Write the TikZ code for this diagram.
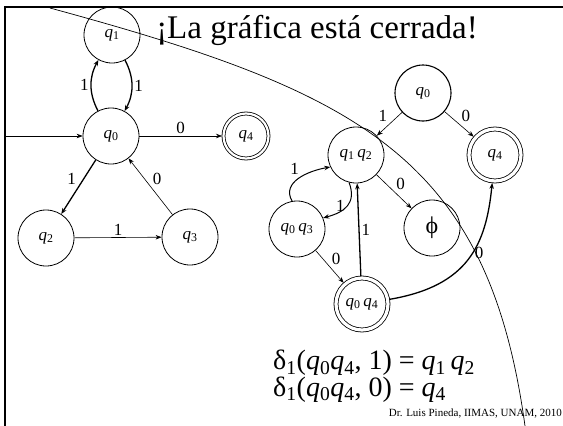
\documentclass[tikz,border=0pt]{standalone}
\usepackage{fontspec}
\setmainfont{Liberation Serif}
\usetikzlibrary{arrows.meta}

% state label q with index
\newcommand{\qi}[1]{\textit{q}\textsubscript{#1}}

\begin{document}
\begin{tikzpicture}[x=1pt,y=-1pt,
  state/.style={circle, draw, line width=0.8pt, minimum size=56pt, inner sep=0pt,
    font=\fontsize{17}{17}\selectfont},
  final/.style={state, double, double distance=3.2pt, minimum size=52pt, outer sep=2pt},
  edge/.style={-{Stealth[length=6pt,width=4.5pt]}, line width=0.6pt},
  bold/.style={edge, line width=1.3pt},
  lab/.style={font=\fontsize{17}{17}\selectfont, inner sep=2pt}]

\useasboundingbox (0,0) rectangle (563,426);

% Frame
\draw[line width=2.5pt] (5,426) -- (5,7) -- (563,7);

% Big arc
\draw[line width=0.7pt] (50,8) .. controls (359,92) and (488,156) .. (525,426);

% Title
\node (title) at (317,30) {\fontsize{33}{33}\selectfont ¡La gráfica está cerrada!};

% Left automaton
\node[state] (q1) at (112,35) {\qi{1}};
\node[state] (q0) at (111,136) {\qi{0}};
\node[final, minimum size=45pt, double distance=2.2pt, outer sep=1.5pt] (q4) at (246,136) {\qi{4}};
\node[state] (q2) at (46,238) {\qi{2}};
\node[state] (q3) at (190,237) {\qi{3}};
\coordinate (start) at (5,136);

\draw[edge] (start) -- (q0);
\draw[bold] (q0) to[bend left=28] node[lab,left]{1} (q1);
\draw[bold] (q1) to[bend left=28] node[lab,right]{1} (q0);
\draw[edge] (q0) -- node[lab,above]{0} (q4);
\draw[bold] (q0) -- node[lab,above left]{1} (q2);
\draw[edge] (q3) -- node[lab,above right]{0} (q0);
\draw[edge] (q2) -- node[lab,above]{1} (q3);

% Right automaton
\node[state, line width=1.1pt] (r0) at (423,93) {\qi{0}};
\node[state] (r12) at (356,155) {\qi{1}\,\qi{2}};
\node[final] (r4) at (495,155) {\qi{4}};
\node[state] (rphi) at (432,228) {\fontsize{24}{24}\selectfont ϕ};
\node[state] (r03) at (297,229) {\qi{0}\,\qi{3}};
\node[final] (r04) at (362,304) {\qi{0}\,\qi{4}};

\draw[edge] (r0) -- node[lab,above left]{1} (r12);
\draw[edge] (r0) -- node[lab,above right]{0} (r4);
\draw[edge] (r12) -- node[lab,above right]{0} (rphi);
\draw[bold, line width=1pt] (r03.100) to[out=120,in=190,looseness=1.1] node[lab,above left,pos=0.55]{1} (r12.205);
\draw[bold, line width=1pt] (r12.256) to[out=-70,in=15,looseness=1.3] node[lab,left,pos=0.5]{1} (r03.23);
\draw[edge] (r03) -- node[lab,above right]{0} (r04);
\draw[bold] (r04) -- node[lab,right]{1} (r12);
\draw[bold] (r04) .. controls (468,286) and (486,245) .. node[lab,right,pos=0.55]{0} (r4);

% Transitions
\node[anchor=north west, align=left, inner sep=0pt] (delta) at (273,350)
  {\fontsize{28}{35}\selectfont δ\textsubscript{1}(\qi{0}\qi{4}, 1) = \qi{1}\,\qi{2}\\
   \fontsize{28}{35}\selectfont δ\textsubscript{1}(\qi{0}\qi{4}, 0) = \qi{4}};

% Footer
\node[anchor=east, inner sep=0pt] (credit) at (562,414) {\fontsize{11}{11}\selectfont Dr. Luis Pineda, IIMAS, UNAM, 2010};

\end{tikzpicture}
\end{document}
